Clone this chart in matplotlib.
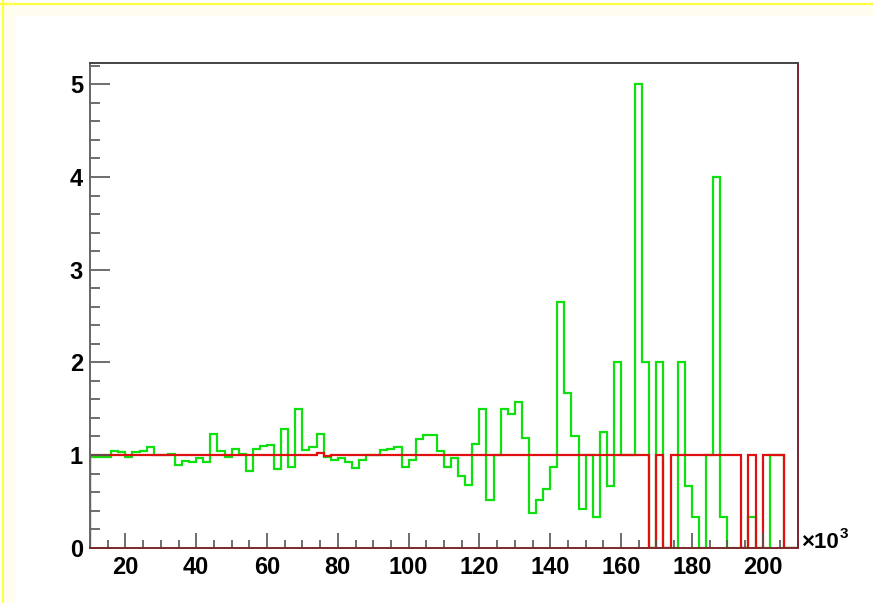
import numpy as np
import matplotlib
matplotlib.use("Agg")
import matplotlib.pyplot as plt
from matplotlib.lines import Line2D
from matplotlib.ticker import MultipleLocator

# histogram binning (x in units of 10^3)
x_lo, x_hi, n_bins = 10, 210, 100

# ratio histograms, one value per bin starting at x = 10
green_vals = [
    0.98, 0.98, 0.98, 1.04, 1.03, 0.98, 1.03, 1.04, 1.09, 1.00,
    1.00, 1.01, 0.89, 0.94, 0.93, 0.97, 0.92, 1.23, 1.04, 0.98,
    1.07, 1.01, 0.83, 1.07, 1.10, 1.11, 0.85, 1.28, 0.87, 1.50,
    1.05, 1.09, 1.23, 0.98, 0.95, 0.97, 0.92, 0.86, 0.95, 1.00,
    1.00, 1.05, 1.06, 1.09, 0.87, 0.95, 1.17, 1.22, 1.22, 1.04,
    0.87, 0.97, 0.77, 0.68, 1.12, 1.50, 0.51, 1.00, 1.50, 1.44,
    1.57, 1.18, 0.37, 0.51, 0.63, 0.87, 2.65, 1.67, 1.21, 0.42,
    1.00, 0.33, 1.25, 0.67, 2.00, 1.00, 1.00, 5.00, 2.00, 0.00,
    2.00, 0.00, 0.00, 2.00, 0.67, 0.33, 0.00, 1.00, 4.00, 0.33,
    0.00, 0.00, 0.00, 0.33, 0.00, 0.00, 1.00, 1.00, 0.00, 0.00,
]
red_vals = [
    1.00, 1.00, 1.00, 1.00, 1.00, 1.00, 1.00, 1.00, 1.00, 1.00,
    1.00, 1.00, 1.00, 1.00, 1.00, 1.00, 1.00, 1.00, 1.00, 1.00,
    1.00, 1.00, 1.00, 1.00, 1.00, 1.00, 1.00, 1.00, 1.00, 1.00,
    1.00, 1.00, 1.02, 0.99, 1.00, 1.00, 1.00, 1.00, 1.00, 1.00,
    1.00, 1.00, 1.00, 1.00, 1.00, 1.00, 1.00, 1.00, 1.00, 1.00,
    1.00, 1.00, 1.00, 1.00, 1.00, 1.00, 1.00, 1.00, 1.00, 1.00,
    1.00, 1.00, 1.00, 1.00, 1.00, 1.00, 1.00, 1.00, 1.00, 1.00,
    1.00, 1.00, 1.00, 1.00, 1.00, 1.00, 1.00, 1.00, 1.00, 0.00,
    1.00, 0.00, 1.00, 1.00, 1.00, 1.00, 1.00, 1.00, 1.00, 1.00,
    1.00, 1.00, 0.00, 1.00, 0.00, 1.00, 1.00, 1.00, 0.00, 0.00,
]

edges = np.linspace(x_lo, x_hi, n_bins + 1)

plt.rcParams["font.family"] = ["Liberation Sans", "DejaVu Sans"]

fig = plt.figure(figsize=(8.73, 6.03), dpi=100)
fig.patch.set_facecolor("white")
ax = fig.add_axes([90 / 873, 55.3 / 603, 708 / 873, 484.7 / 603])

ax.stairs(green_vals, edges, color="#10e010", linewidth=1.6, baseline=0)
ax.stairs(red_vals, edges, color="#e01010", linewidth=1.6, baseline=0)

ax.set_xlim(x_lo, x_hi)
ax.set_ylim(0, 5.23)

ax.xaxis.set_major_locator(MultipleLocator(20))
ax.xaxis.set_minor_locator(MultipleLocator(5))
ax.yaxis.set_major_locator(MultipleLocator(1))
ax.yaxis.set_minor_locator(MultipleLocator(0.2))

ax.tick_params(axis="x", which="major", direction="in", length=11, width=1.2,
               color="#555555", pad=6, labelsize=17)
ax.tick_params(axis="x", which="minor", direction="in", length=5.5, width=1.2,
               color="#555555")
ax.tick_params(axis="y", which="major", direction="in", length=14.5, width=1.2,
               color="#555555", pad=5, labelsize=17)
ax.tick_params(axis="y", which="minor", direction="in", length=7, width=1.2,
               color="#555555")
for lab in ax.get_xticklabels() + ax.get_yticklabels():
    lab.set_fontweight("bold")

ax.spines["left"].set_color("#666666")
ax.spines["top"].set_color("#444444")
ax.spines["right"].set_color("#7a2233")
ax.spines["bottom"].set_color("#7a2a2a")
for s in ax.spines.values():
    s.set_linewidth(1.4)

# axis multiplier at the end of the x axis
fig.text(801 / 873, 55.5 / 603, "\u00d710", fontsize=16, fontweight="bold",
         ha="left", va="baseline")
fig.text(839.5 / 873, 65 / 603, "3", fontsize=11, fontweight="bold",
         ha="left", va="baseline")

# canvas border
fig.add_artist(Line2D([0, 1], [1 - 10 / 603, 1 - 10 / 603], color="#fffdf0",
                      linewidth=8, transform=fig.transFigure))
fig.add_artist(Line2D([10 / 873, 10 / 873], [0, 1], color="#fffdf0",
                      linewidth=8, transform=fig.transFigure))
fig.add_artist(Line2D([0, 1], [1 - 3.5 / 603, 1 - 3.5 / 603], color="#ffff40",
                      linewidth=1.6, transform=fig.transFigure))
fig.add_artist(Line2D([3 / 873, 3 / 873], [0, 1], color="#ffff40",
                      linewidth=1.6, transform=fig.transFigure))

fig.savefig("out.png", dpi=100)
